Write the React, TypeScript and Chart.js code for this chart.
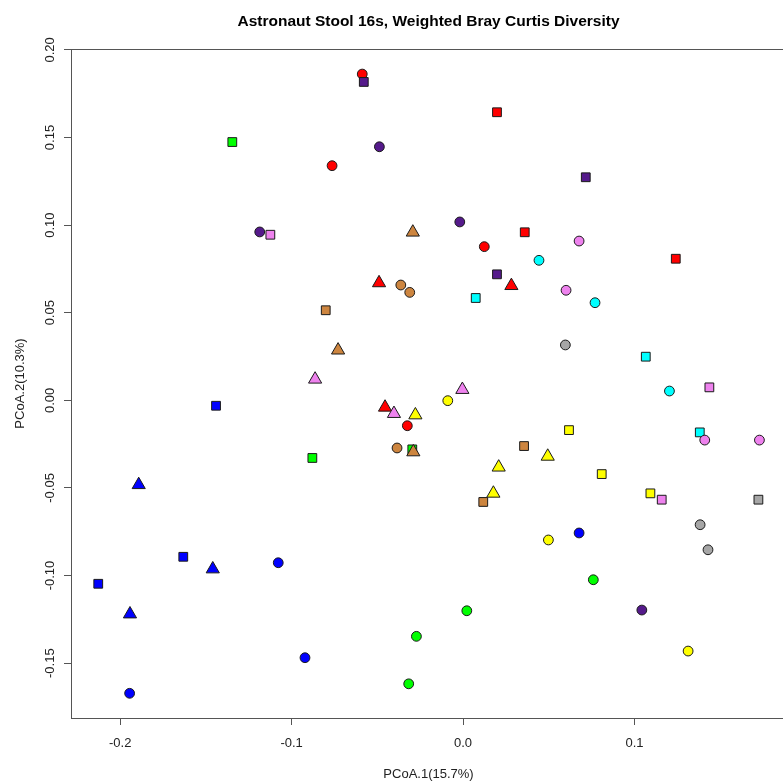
import React, { useEffect, useRef } from 'react';
import { Chart, registerables } from 'chart.js';

Chart.register(...registerables);

const TITLE = 'Astronaut Stool 16s, Weighted Bray Curtis Diversity';
const X_TITLE = 'PCoA.1(15.7%)';
const Y_TITLE = 'PCoA.2(10.3%)';

const xTickValues = [-0.2, -0.1, 0.0, 0.1];
const xTickLabels = ['-0.2', '-0.1', '0.0', '0.1'];
const yTickValues = [-0.15, -0.1, -0.05, 0.0, 0.05, 0.1, 0.15, 0.2];
const yTickLabels = ['-0.15', '-0.10', '-0.05', '0.00', '0.05', '0.10', '0.15', '0.20'];

const X_MIN = -0.2287;
const X_MAX = 0.1884;
const Y_MIN = -0.1813;
const Y_MAX = 0.2005;

// [PCoA.1, PCoA.2]
const redCircles = [[-0.0588, 0.1862], [-0.0764, 0.1339], [0.0124, 0.0877], [-0.0325, -0.0145]];
const redSquares = [[0.0198, 0.1644], [0.036, 0.0959], [0.1241, 0.0808]];
const redTriangles = [[-0.049, 0.067], [0.0282, 0.0654], [-0.0455, -0.004]];

const purpleCircles = [[-0.0488, 0.1447], [-0.1186, 0.0961], [-0.0019, 0.1018], [0.1043, -0.1197]];
const purpleSquares = [[-0.0579, 0.1817], [0.0716, 0.1273], [0.0198, 0.0719]];

const greenSquares = [[-0.1346, 0.1474], [-0.0879, -0.0329], [-0.0296, -0.028]];
const greenCircles = [[0.076, -0.1024], [0.0022, -0.1201], [-0.0272, -0.1347], [-0.0317, -0.1618]];

const blueSquares = [[-0.1441, -0.0031], [-0.1632, -0.0893], [-0.2128, -0.1047]];
const blueTriangles = [[-0.1892, -0.0482], [-0.146, -0.0963], [-0.1943, -0.122]];
const blueCircles = [[-0.1078, -0.0927], [-0.0922, -0.1469], [-0.1945, -0.1672], [0.0677, -0.0757]];

const violetSquares = [[-0.1124, 0.0945], [0.1437, 0.0074], [0.1159, -0.0567]];
const violetCircles = [[0.0677, 0.0909], [0.0601, 0.0628], [0.141, -0.0227], [0.1729, -0.0227]];
const violetTriangles = [[-0.0863, 0.012], [-0.0403, -0.0076], [-0.0004, 0.0061]];

const cyanCircles = [[0.0443, 0.0799], [0.077, 0.0557], [0.1204, 0.0053]];
const cyanSquares = [[0.0074, 0.0584], [0.1066, 0.0249], [0.1381, -0.0183]];

const grayCircles = [[0.0597, 0.0316], [0.1383, -0.071], [0.1429, -0.0853]];
const graySquares = [[0.1723, -0.0567]];

const yellowCircles = [[-0.0089, -0.0002], [0.0498, -0.0797], [0.1313, -0.1431]];
const yellowSquares = [[0.0618, -0.017], [0.0809, -0.0421], [0.1093, -0.0531]];
const yellowTriangles = [[-0.0278, -0.0084], [0.0494, -0.032], [0.0208, -0.0382], [0.0177, -0.0531]];

const brownCircles = [[-0.0363, 0.0658], [-0.0311, 0.0616], [-0.0385, -0.0272]];
const brownSquares = [[-0.0801, 0.0514], [0.0356, -0.0261], [0.0118, -0.058]];
const brownTriangles = [[-0.0293, 0.0959], [-0.0729, 0.0286], [-0.029, -0.0295]];

const RED = '#FF0000';
const PURPLE = '#551A8B';
const GREEN = '#00FF00';
const BLUE = '#0000FF';
const VIOLET = '#EE82EE';
const CYAN = '#00FFFF';
const GRAY = '#A6A6A6';
const YELLOW = '#FFFF00';
const BROWN = '#CD853F';

const LINE = '#555555';
const FONT = '"Liberation Sans", Arial, sans-serif';

const SIZE: Record<string, number> = { circle: 4.9, rect: 6.2, triangle: 7.6 };

// drawn bottom-to-top in this order
const groups: [number[][], string, string][] = [
  [greenSquares, GREEN, 'rect'],
  [greenCircles, GREEN, 'circle'],
  [redCircles, RED, 'circle'],
  [redSquares, RED, 'rect'],
  [redTriangles, RED, 'triangle'],
  [cyanCircles, CYAN, 'circle'],
  [cyanSquares, CYAN, 'rect'],
  [yellowCircles, YELLOW, 'circle'],
  [yellowSquares, YELLOW, 'rect'],
  [yellowTriangles, YELLOW, 'triangle'],
  [grayCircles, GRAY, 'circle'],
  [graySquares, GRAY, 'rect'],
  [blueSquares, BLUE, 'rect'],
  [blueTriangles, BLUE, 'triangle'],
  [blueCircles, BLUE, 'circle'],
  [purpleCircles, PURPLE, 'circle'],
  [purpleSquares, PURPLE, 'rect'],
  [brownCircles, BROWN, 'circle'],
  [brownSquares, BROWN, 'rect'],
  [brownTriangles, BROWN, 'triangle'],
  [violetSquares, VIOLET, 'rect'],
  [violetCircles, VIOLET, 'circle'],
  [violetTriangles, VIOLET, 'triangle'],
];

const rPlot = {
  id: 'rplot',
  beforeDatasetsDraw(chart: any) {
    const { ctx, chartArea: a } = chart;
    ctx.save();
    ctx.strokeStyle = LINE;
    ctx.lineWidth = 1;
    const l = Math.round(a.left) + 0.5;
    const t = Math.round(a.top) + 0.5;
    ctx.strokeRect(l, t, Math.round(a.right) - Math.round(a.left), Math.round(a.bottom) - Math.round(a.top));
    ctx.restore();
  },
  afterDraw(chart: any) {
    const { ctx, chartArea: a, scales } = chart;
    ctx.save();
    // title
    ctx.fillStyle = '#000';
    ctx.font = `bold 15.5px ${FONT}`;
    ctx.textAlign = 'center';
    ctx.textBaseline = 'alphabetic';
    ctx.fillText(TITLE, (a.left + a.right) / 2, a.top - 23);

    ctx.fillStyle = '#222';
    ctx.font = `13px ${FONT}`;
    // x tick labels
    xTickValues.forEach((v, i) => {
      const px = scales.x.getPixelForValue(v);
      ctx.fillText(xTickLabels[i], px, a.bottom + 28.5);
    });
    // x title
    ctx.fillText(X_TITLE, (a.left + a.right) / 2, a.bottom + 60);
    // y tick labels
    yTickValues.forEach((v, i) => {
      const py = scales.y.getPixelForValue(v);
      ctx.save();
      ctx.translate(a.left - 17.5, py);
      ctx.rotate(-Math.PI / 2);
      ctx.fillText(yTickLabels[i], 0, 0);
      ctx.restore();
    });
    // y title
    ctx.save();
    ctx.translate(a.left - 47.5, (a.top + a.bottom) / 2);
    ctx.rotate(-Math.PI / 2);
    ctx.fillText(Y_TITLE, 0, 0);
    ctx.restore();
    ctx.restore();
  },
};

export default function App() {
  const ref = useRef<HTMLCanvasElement>(null);
  useEffect(() => {
    if (!ref.current) return;
    const n = groups.length;
    const chart = new Chart(ref.current, {
      type: 'scatter',
      data: {
        datasets: groups.map(([pts, color, shape], i) => ({
          data: pts.map(([x, y]) => ({ x, y })),
          pointStyle: shape as any,
          pointRadius: SIZE[shape],
          pointHoverRadius: SIZE[shape],
          pointBackgroundColor: color,
          pointBorderColor: '#1a1a1a',
          pointBorderWidth: 1,
          pointHoverBorderWidth: 1,
          backgroundColor: color,
          borderColor: '#1a1a1a',
          showLine: false,
          order: n - i,
        })),
      },
      options: {
        responsive: false,
        animation: false,
        devicePixelRatio: 1,
        events: [],
        layout: { padding: { left: 64, right: 14, top: 49, bottom: 58 } },
        plugins: { legend: { display: false }, tooltip: { enabled: false }, title: { display: false } },
        scales: {
          x: {
            type: 'linear',
            position: 'bottom',
            min: X_MIN,
            max: X_MAX,
            afterBuildTicks: (s: any) => {
              s.ticks = xTickValues.map((v) => ({ value: v }));
            },
            ticks: { display: false },
            grid: { drawOnChartArea: false, drawTicks: true, tickLength: 7, color: LINE, lineWidth: 1 },
            border: { display: true, color: LINE, width: 1 },
          },
          y: {
            type: 'linear',
            position: 'left',
            min: Y_MIN,
            max: Y_MAX,
            afterBuildTicks: (s: any) => {
              s.ticks = yTickValues.map((v) => ({ value: v }));
            },
            ticks: { display: false },
            grid: { drawOnChartArea: false, drawTicks: true, tickLength: 7, color: LINE, lineWidth: 1 },
            border: { display: true, color: LINE, width: 1 },
          },
        },
      },
      plugins: [rPlot],
    });
    return () => chart.destroy();
  }, []);
  return (
    <div style={{ position: 'fixed', left: 0, top: 0, width: 800, height: 783, background: '#fff', overflow: 'hidden' }}>
      <canvas ref={ref} width={800} height={783} style={{ display: 'block', width: 800, height: 783 }} />
    </div>
  );
}
